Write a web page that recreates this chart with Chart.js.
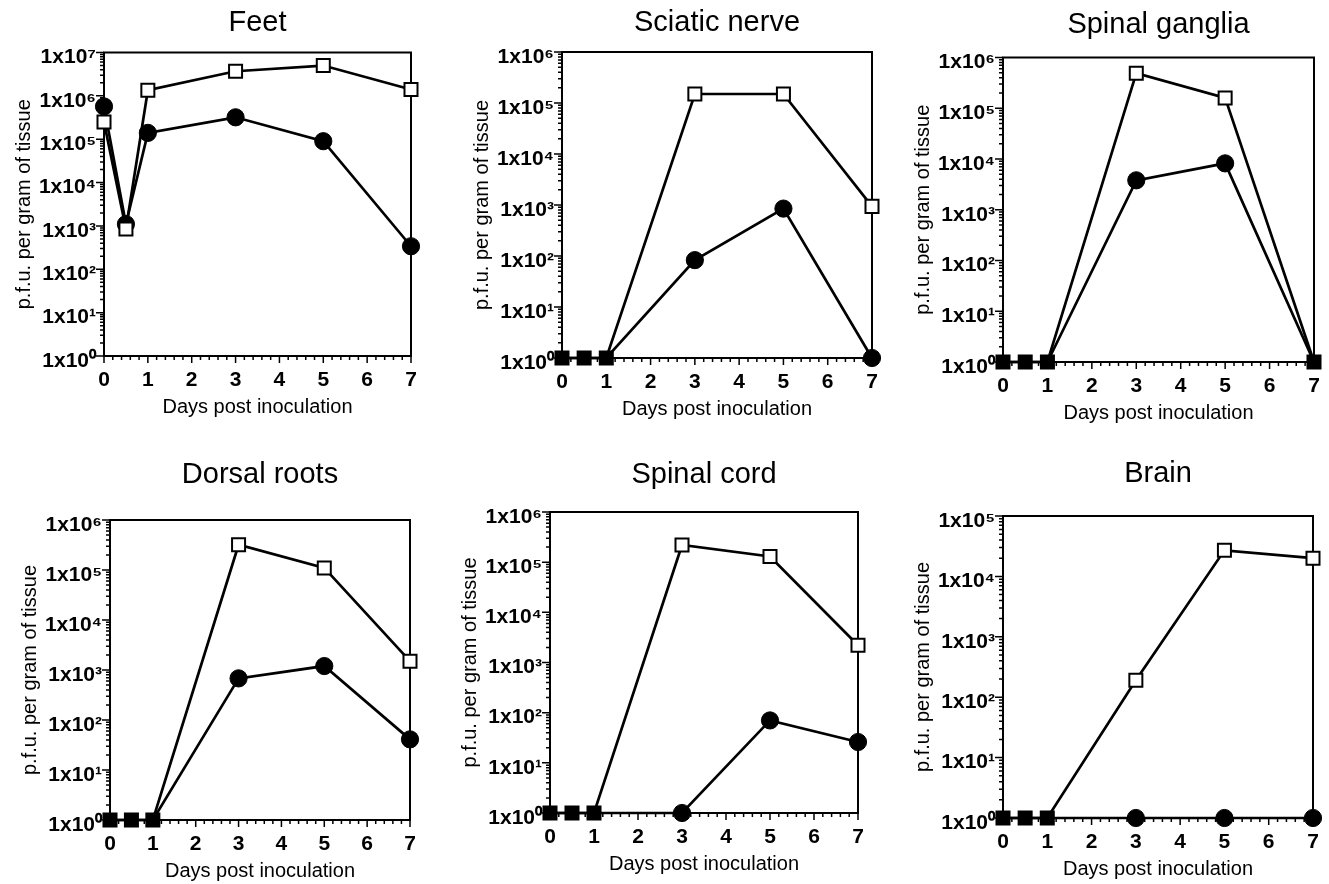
<!DOCTYPE html>
<html>
<head>
<meta charset="utf-8">
<script src="https://cdn.jsdelivr.net/npm/chart.js@4.4.0/dist/chart.umd.min.js"></script>
<style>
  html, body { margin: 0; padding: 0; background: #fff; }
  body { width: 1329px; height: 884px; position: relative; overflow: hidden; }
  canvas { position: absolute; }
</style>
</head>
<body>
<script>
// sampling days (x values shared by every panel)
const days = [0, 0.5, 1, 3, 5, 7];
const titles = ['Feet', 'Sciatic nerve', 'Spinal ganglia', 'Dorsal roots', 'Spinal cord', 'Brain'];

// open squares / filled circles, p.f.u. per gram
const feetOpen      = [2.5e5, 850, 1.35e6, 3.7e6, 5e6, 1.4e6];
const feetFilled    = [5.7e5, 1.1e3, 1.4e5, 3.2e5, 9e4, 340];
const sciaticOpen   = [1, 1, 1, 1.5e5, 1.5e5, 940];
const sciaticFilled = [1, 1, 1, 83, 850, 1];
const gangliaOpen   = [1, 1, 1, 4.9e5, 1.6e5, 1];
const gangliaFilled = [1, 1, 1, 3.8e3, 8.2e3, 1];
const rootsOpen     = [1, 1, 1, 3.2e5, 1.1e5, 1.5e3];
const rootsFilled   = [1, 1, 1, 680, 1.2e3, 41];
const cordOpen      = [1, 1, 1, 2.2e5, 1.3e5, 2.2e3];
const cordFilled    = [1, 1, 1, 1, 70, 26];
const brainOpen     = [1, 1, 1, 190, 2.7e4, 2e4];
const brainFilled   = [1, 1, 1, 1, 1, 1];

const yMaxima = [1e7, 1e6, 1e6, 1e6, 1e6, 1e5];
const xTickValues = [0, 1, 2, 3, 4, 5, 6, 7];
const yAxisTitle = 'p.f.u. per gram of tissue';
const xAxisTitle = 'Days post inoculation';
const supDigits = ['⁰', '¹', '²', '³', '⁴', '⁵', '⁶', '⁷', '⁸', '⁹'];

const openSeries = [feetOpen, sciaticOpen, gangliaOpen, rootsOpen, cordOpen, brainOpen];
const filledSeries = [feetFilled, sciaticFilled, gangliaFilled, rootsFilled, cordFilled, brainFilled];

// plot boxes on the page
const boxes = [
  { l: 104,  t: 52,  r: 411,  b: 356, off: 29.5 },
  { l: 562,  t: 52,  r: 872,  b: 358, off: 29 },
  { l: 1003, t: 57,  r: 1314, b: 362, off: 32.5 },
  { l: 110,  t: 520, r: 410,  b: 820, off: 45 },
  { l: 550,  t: 512, r: 858,  b: 813, off: 37 },
  { l: 1003, t: 516, r: 1313, b: 818, off: 42 }
];

const FONT = 'Liberation Sans, Arial, Helvetica, sans-serif';
const Y_W = 100, X_H = 70, PAD_R = 15;

// frame plus major/minor ticks
const frameTicks = {
  id: 'frameTicks',
  beforeDatasetsDraw(chart) {
    const { ctx, chartArea: a, scales: { x, y } } = chart;
    ctx.save();
    ctx.strokeStyle = '#000';
    ctx.lineWidth = 2;
    ctx.strokeRect(a.left, a.top, a.right - a.left, a.bottom - a.top);

    ctx.lineWidth = 1.5;
    ctx.beginPath();
    for (let i = 0; i <= 35; i++) {
      const px = x.getPixelForValue(i / 5);
      const len = i % 5 === 0 ? 7 : 4;
      ctx.moveTo(px, a.bottom);
      ctx.lineTo(px, a.bottom + len);
    }
    const eMax = Math.round(Math.log10(y.max));
    for (let e = 0; e <= eMax; e++) {
      for (let k = 1; k <= 9; k++) {
        if (e === eMax && k > 1) break;
        const py = y.getPixelForValue(k * Math.pow(10, e));
        const len = k === 1 ? 8 : 4;
        ctx.moveTo(a.left, py);
        ctx.lineTo(a.left - len, py);
      }
    }
    ctx.stroke();
    ctx.restore();
  }
};

function powLabel(v) {
  const e = Math.round(Math.log10(v));
  return '1x10' + String(e).split('').map(d => supDigits[+d]).join('');
}

function makePanel(i) {
  const bx = boxes[i];
  const topSpace = bx.off + 20;
  const canvas = document.createElement('canvas');
  canvas.width = (bx.r - bx.l) + Y_W + PAD_R;
  canvas.height = topSpace + (bx.b - bx.t) + X_H;
  canvas.style.left = (bx.l - Y_W) + 'px';
  canvas.style.top = (bx.t - topSpace) + 'px';
  document.body.appendChild(canvas);

  const yMax = yMaxima[i];
  const decades = [];
  for (let v = 1; v <= yMax; v *= 10) decades.push(v);

  // where both series sit on the baseline only the filled square shows
  const bothAtBase = c => c.raw && c.raw.y <= 1 && openSeries[i][c.dataIndex] <= 1;

  new Chart(canvas, {
    type: 'line',
    data: {
      datasets: [
        {
          data: days.map((d, k) => ({ x: d, y: openSeries[i][k] })),
          order: 0,
          borderColor: '#000',
          borderWidth: 2.7,
          pointStyle: 'rect',
          pointRadius: 9.2,
          pointBorderWidth: 2,
          pointBorderColor: '#000',
          pointBackgroundColor: c => (c.raw && c.raw.y <= 1 ? '#000' : '#fff'),
          clip: false
        },
        {
          data: days.map((d, k) => ({ x: d, y: filledSeries[i][k] })),
          order: 1,
          borderColor: '#000',
          borderWidth: 2.7,
          pointStyle: 'circle',
          pointRadius: c => (bothAtBase(c) ? 0 : 8.6),
          pointBorderWidth: 1,
          pointBorderColor: '#000',
          pointBackgroundColor: '#000',
          clip: false
        }
      ]
    },
    options: {
      responsive: false,
      animation: false,
      events: [],
      layout: { padding: { right: PAD_R } },
      plugins: {
        legend: { display: false },
        tooltip: { enabled: false },
        title: {
          display: true,
          text: titles[i],
          fullSize: false,
          color: '#000',
          font: { family: FONT, size: 29, weight: 'normal' },
          padding: { top: 2.6, bottom: bx.off - 17.4 }
        }
      },
      scales: {
        x: {
          type: 'linear',
          min: 0,
          max: 7,
          afterBuildTicks: s => { s.ticks = xTickValues.map(v => ({ value: v })); },
          grid: { display: false, drawTicks: false },
          border: { display: false },
          ticks: {
            color: '#000',
            autoSkip: false,
            maxRotation: 0,
            padding: 12,
            font: { family: FONT, size: 21, weight: 'bold' }
          },
          title: {
            display: true,
            text: xAxisTitle,
            color: '#000',
            font: { family: FONT, size: 20, weight: 'normal' },
            padding: { top: 0, bottom: 7 }
          },
          afterFit: s => { s.height = X_H; s.paddingLeft = 0; s.paddingRight = 0; }
        },
        y: {
          type: 'logarithmic',
          min: 1,
          max: yMax,
          afterBuildTicks: s => { s.ticks = decades.map(v => ({ value: v })); },
          grid: { display: false, drawTicks: false },
          border: { display: false },
          ticks: {
            color: '#000',
            autoSkip: false,
            padding: 8,
            labelOffset: 5,
            font: { family: FONT, size: 21, weight: 'bold' },
            callback: v => powLabel(v)
          },
          title: {
            display: true,
            text: yAxisTitle,
            color: '#000',
            font: { family: FONT, size: 20, weight: 'normal' },
            padding: { top: 8, bottom: 0 }
          },
          afterFit: s => { s.width = Y_W; s.paddingTop = 0; s.paddingBottom = 0; }
        }
      }
    },
    plugins: [frameTicks]
  });
}

for (let i = 0; i < 6; i++) makePanel(i);
</script>
</body>
</html>
